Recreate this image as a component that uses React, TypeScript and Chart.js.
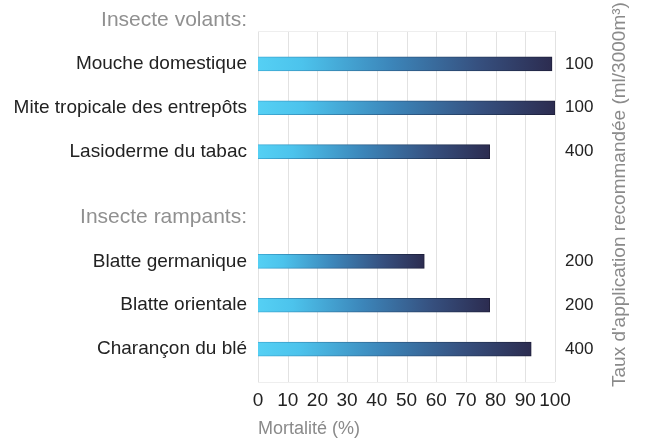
import React, { useEffect, useRef } from "react";
import { Chart, registerables } from "chart.js";

Chart.register(...registerables);

// ---- Data ----
const groupHeaders = ["Insecte volants:", "Insecte rampants:"];
const flyingInsects = ["Mouche domestique", "Mite tropicale des entrepôts", "Lasioderme du tabac"];
const flyingMortality = [99, 100, 78];
const flyingRate = ["100", "100", "400"];
const crawlingInsects = ["Blatte germanique", "Blatte orientale", "Charançon du blé"];
const crawlingMortality = [56, 78, 92];
const crawlingRate = ["200", "200", "400"];
const xTickValues = [0, 10, 20, 30, 40, 50, 60, 70, 80, 90, 100];
const xTitle = "Mortalité (%)";
const rightTitle = "Taux d'application recommandée (ml/3000m³)";

// ---- Build rows (header, then spaced items) ----
type Row = { label: string; value: number | null; rate: string };
const blank = (): Row => ({ label: "", value: null, rate: "" });
function buildGroup(header: string, names: string[], vals: number[], rates: string[]): Row[] {
  const rows: Row[] = [{ label: header, value: null, rate: "" }];
  names.forEach((n, i) => {
    rows.push(blank());
    rows.push({ label: n, value: vals[i], rate: rates[i] });
  });
  rows.push(blank());
  return rows;
}
const rows: Row[] = [
  ...buildGroup(groupHeaders[0], flyingInsects, flyingMortality, flyingRate),
  blank(),
  ...buildGroup(groupHeaders[1], crawlingInsects, crawlingMortality, crawlingRate),
];
const labels = rows.map((r) => r.label);
const values = rows.map((r) => r.value);
const rateLabels = rows.map((r) => r.rate);

const FONT = "'Liberation Sans', Arial, Helvetica, sans-serif";

export default function App() {
  const ref = useRef<HTMLCanvasElement | null>(null);

  useEffect(() => {
    document.body.style.margin = "0";
    if (!ref.current) return;

    const gridPlugin = {
      id: "customGrid",
      beforeDatasetsDraw(chart: any) {
        const { ctx, scales } = chart;
        const x = scales.x;
        const y = scales.y;
        const top = (y.getPixelForValue(0) + y.getPixelForValue(1)) / 2;
        const bottom = y.bottom;
        ctx.save();
        ctx.strokeStyle = "#e2e2e2";
        ctx.lineWidth = 1;
        xTickValues.forEach((v) => {
          const px = Math.round(x.getPixelForValue(v)) + 0.5;
          ctx.beginPath();
          ctx.moveTo(px, top);
          ctx.lineTo(px, bottom);
          ctx.stroke();
        });
        ctx.strokeStyle = "#eeeeee";
        [top, bottom].forEach((py) => {
          const yy = Math.round(py) + 0.5;
          ctx.beginPath();
          ctx.moveTo(x.getPixelForValue(0), yy);
          ctx.lineTo(x.getPixelForValue(100), yy);
          ctx.stroke();
        });
        ctx.restore();
      },
    };

    const rightTitlePlugin = {
      id: "rightTitle",
      afterDraw(chart: any) {
        const { ctx } = chart;
        const y2 = chart.scales.y2;
        ctx.save();
        ctx.font = `19px ${FONT}`;
        ctx.fillStyle = "#8a8a8a";
        ctx.translate(y2.right - 25, y2.bottom + 5);
        ctx.rotate(-Math.PI / 2);
        ctx.textAlign = "left";
        ctx.textBaseline = "middle";
        ctx.fillText(rightTitle, 0, 0);
        ctx.restore();
      },
    };

    const gradientFor = (c: any, stops: [number, string][], fallback: string) => {
      const chart = c.chart;
      const { chartArea, scales } = chart;
      if (!chartArea || c.raw == null || !scales.x) return fallback;
      const x0 = scales.x.getPixelForValue(0);
      const x1 = scales.x.getPixelForValue(c.raw);
      if (!isFinite(x0) || !isFinite(x1) || x1 <= x0) return fallback;
      const g = chart.ctx.createLinearGradient(x0, 0, x1, 0);
      stops.forEach(([o, col]) => g.addColorStop(o, col));
      return g;
    };

    const noVPad = (s: any, w: number) => {
      s.width = w;
      s.paddingTop = 0;
      s.paddingBottom = 0;
    };

    const chart = new Chart(ref.current, {
      type: "bar",
      data: {
        labels,
        datasets: [
          {
            data: values as any,
            barThickness: 14,
            backgroundColor: (c: any) =>
              gradientFor(
                c,
                [
                  [0, "#55d0f4"],
                  [0.15, "#4cc3ec"],
                  [0.45, "#3c86ba"],
                  [0.75, "#36507f"],
                  [1, "#2c2c50"],
                ],
                "#3c86ba"
              ),
            borderColor: (c: any) =>
              gradientFor(
                c,
                [
                  [0, "#3fb0da"],
                  [0.5, "#2d5a86"],
                  [1, "#1e1e3a"],
                ],
                "#2a3a60"
              ),
            borderWidth: { top: 1, bottom: 1, right: 1, left: 0 },
            borderSkipped: false,
          },
        ],
      },
      options: {
        indexAxis: "y",
        animation: false,
        responsive: true,
        maintainAspectRatio: false,
        layout: { padding: { top: 9, left: 0, right: 0, bottom: 0 } },
        plugins: {
          legend: { display: false },
          tooltip: { enabled: false },
          title: { display: false },
        },
        scales: {
          x: {
            type: "linear",
            min: 0,
            max: 100,
            afterBuildTicks: (s: any) => {
              s.ticks = xTickValues.map((v) => ({ value: v }));
            },
            afterFit: (s: any) => {
              s.height = 61;
            },
            grid: { display: false, drawTicks: false },
            border: { display: false },
            ticks: {
              autoSkip: false,
              maxRotation: 0,
              minRotation: 0,
              padding: 7,
              color: "#222222",
              font: { family: FONT, size: 19 },
            },
            title: {
              display: true,
              text: xTitle,
              align: "start",
              color: "#8a8a8a",
              font: { family: FONT, size: 18 },
              padding: { top: 0, bottom: 3 },
            },
          },
          y: {
            type: "category",
            position: "left",
            offset: true,
            afterFit: (s: any) => noVPad(s, 258),
            grid: { display: false, drawTicks: false },
            border: { display: false },
            ticks: {
              autoSkip: false,
              padding: 11,
              color: (c: any) =>
                groupHeaders.includes(labels[c.index]) ? "#909090" : "#222222",
              font: (c: any) =>
                groupHeaders.includes(labels[c.index])
                  ? { family: FONT, size: 21 }
                  : { family: FONT, size: 19 },
            },
          },
          y2: {
            type: "category",
            position: "right",
            labels: rateLabels,
            offset: true,
            afterFit: (s: any) => noVPad(s, 90),
            grid: { display: false, drawTicks: false },
            border: { display: false },
            ticks: {
              autoSkip: false,
              padding: 10,
              color: "#222222",
              font: { family: FONT, size: 17 },
            },
          },
        },
      } as any,
      plugins: [gridPlugin, rightTitlePlugin],
    });

    return () => chart.destroy();
  }, []);

  return (
    <div style={{ width: 645, height: 443, position: "relative", background: "#ffffff" }}>
      <canvas ref={ref} />
    </div>
  );
}
